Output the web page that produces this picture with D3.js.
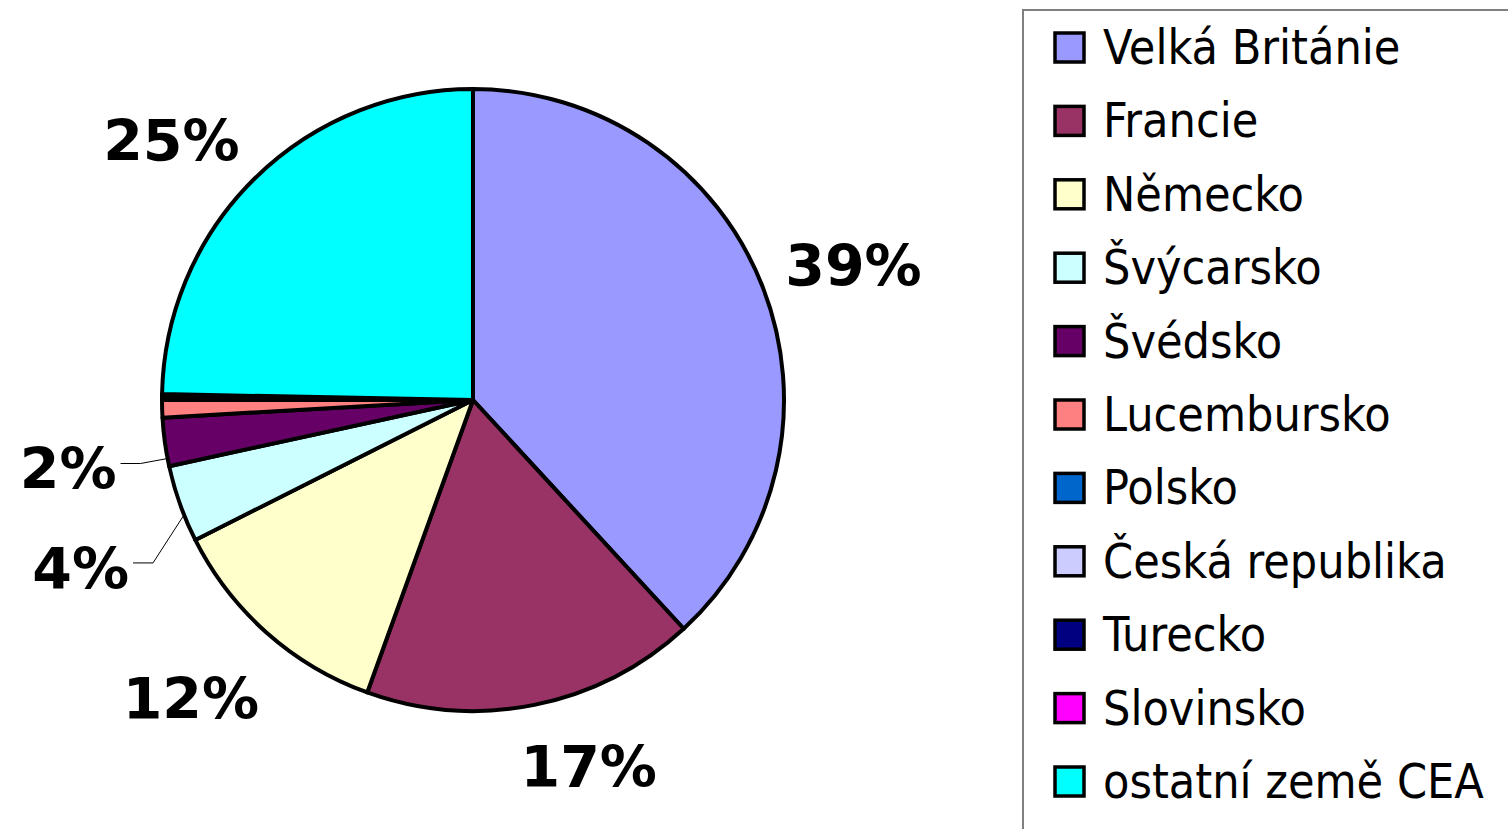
<!DOCTYPE html>
<html>
<head>
<meta charset="utf-8">
<script src="https://cdn.jsdelivr.net/npm/d3@7"></script>
<style>
  body { margin: 0; background: #fff; }
  svg { display: block; }
</style>
</head>
<body>
<div id="chart"></div>
<script>
// data (share of total, %)
const countries = ["Velká Británie", "Francie", "Německo", "Švýcarsko", "Švédsko",
                   "Lucembursko", "Polsko", "Česká republika", "Turecko", "Slovinsko",
                   "ostatní země CEA"];
const shares = [38.0, 17.3, 12.0, 4.0, 2.5, 0.9, 0.1, 0.05, 0.1, 0.05, 24.6];
const colors = ["#9999FF", "#993366", "#FFFFCC", "#CCFFFF", "#660066",
                "#FF8080", "#0066CC", "#CCCCFF", "#000080", "#FF00FF", "#00FFFF"];
// percent labels as printed on the chart ("" = no label)
const percentLabels = ["39%", "17%", "12%", "4%", "2%", "", "", "", "", "", "25%"];

const width = 1508, height = 829;
const cx = 473, cy = 400, r = 311;

const svg = d3.select("#chart").append("svg")
    .attr("width", width)
    .attr("height", height);

const data = countries.map((c, i) => ({name: c, value: shares[i], color: colors[i], label: percentLabels[i]}));

const pie = d3.pie().sort(null).value(d => d.value);
const arcs = pie(data);
const arc = d3.arc().innerRadius(0).outerRadius(r);

const g = svg.append("g").attr("transform", `translate(${cx},${cy})`);

g.selectAll("path.slice")
  .data(arcs)
  .enter().append("path")
  .attr("class", "slice")
  .attr("d", arc)
  .attr("fill", d => d.data.color)
  .attr("stroke", "#000")
  .attr("stroke-width", 4)
  .attr("stroke-linejoin", "round");

// percent labels
const fs = 57;
const mid = d => (d.startAngle + d.endAngle) / 2;

// small manual nudges, like Excel's "best fit" placement
const nudge = {
  "Velká Británie": [-10, 0],
  "Francie": [33, 2],
  "Německo": [-4, 20],
  "ostatní země CEA": [-8, 6]
};
// labels pulled out with a leader line:
// at = where on the slice the line starts (0..1), elbow offset from there, horizontal tail length
const leader = {
  "Švýcarsko": {at: 0.35, elbow: [-31, 48], len: 20},
  "Švédsko": {at: 0.16, elbow: [-27, 5], len: 20}
};

arcs.filter(d => d.data.label).forEach(d => {
  const a = mid(d);
  const txt = d.data.label;
  const w = fs * 2.394, h = fs * 0.729;
  let lx, ly;
  if (leader[d.data.name]) {
    const L = leader[d.data.name];
    const la = d.startAngle + L.at * (d.endAngle - d.startAngle);
    const ex = r * Math.sin(la), ey = -r * Math.cos(la);
    const bx = ex + L.elbow[0], by = ey + L.elbow[1];
    const tx = bx - L.len;
    g.append("polyline")
      .attr("points", [[ex, ey], [bx, by], [tx, by]].map(p => p.join(",")).join(" "))
      .attr("fill", "none")
      .attr("stroke", "#000")
      .attr("stroke-width", 1);
    const tw = txt.length === 2 ? fs * 1.698 : w;
    lx = tx - 4 - tw / 2;
    ly = by + 5;
  } else {
    const R = r + 40;
    const px = R * Math.sin(a), py = -R * Math.cos(a);
    const nd = nudge[d.data.name] || [0, 0];
    lx = px + w / 2 * Math.sin(a) + nd[0];
    ly = py - h / 2 * Math.cos(a) + nd[1];
  }
  g.append("text")
    .attr("x", lx)
    .attr("y", ly + h / 2)
    .attr("text-anchor", "middle")
    .attr("font-family", "'DejaVu Sans', Verdana, sans-serif")
    .attr("font-weight", "bold")
    .attr("font-size", fs + "px")
    .attr("fill", "#000")
    .text(txt);
});

// legend
const legend = svg.append("g");
legend.append("rect")
  .attr("x", 1023)
  .attr("y", 10)
  .attr("width", 600)
  .attr("height", 900)
  .attr("fill", "#fff")
  .attr("stroke", "#808080")
  .attr("stroke-width", 2);

const ly = d3.scalePoint().domain(countries).range([64, 798]);

const items = legend.selectAll("g.item")
  .data(data)
  .enter().append("g")
  .attr("class", "item")
  .attr("transform", d => `translate(0,${ly(d.name)})`);

items.append("rect")
  .attr("x", 1055)
  .attr("y", -31)
  .attr("width", 29)
  .attr("height", 29)
  .attr("fill", d => d.color)
  .attr("stroke", "#000")
  .attr("stroke-width", 3.5);

items.append("text")
  .attr("x", 1103)
  .attr("y", 0)
  .attr("font-family", "'DejaVu Sans Condensed', 'DejaVu Sans', sans-serif")
  .attr("font-size", "48px")
  .attr("fill", "#000")
  .text(d => d.name);
</script>
</body>
</html>
